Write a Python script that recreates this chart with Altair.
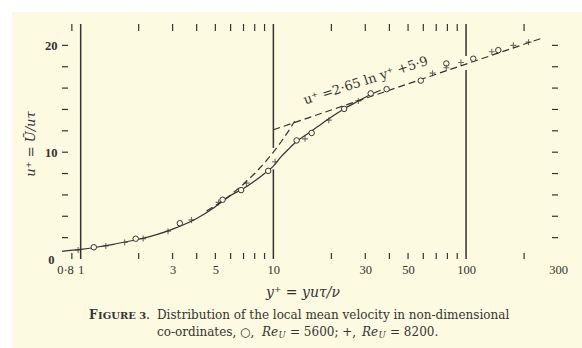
import altair as alt
import pandas as pd

# ---------------- data ----------------
# Re_U = 5600 (open circles)
re5600_y = [1.17, 1.93, 3.27, 5.45, 6.8, 9.4, 13.2, 15.8, 23.3, 32.0, 38.7, 58.2, 79.0, 109.0, 147.0]
re5600_u = [1.10, 1.90, 3.35, 5.55, 6.45, 8.25, 11.1, 11.8, 14.05, 15.5, 15.9, 16.7, 18.3, 18.75, 19.55]

# Re_U = 8200 (plus signs)
re8200_y = [0.97, 1.35, 1.69, 2.11, 2.84, 3.76, 5.2, 7.25, 10.2, 14.6, 19.4, 27.6, 67.0, 79.0, 94.0, 136.0, 176.0, 211.0]
re8200_u = [0.85, 1.22, 1.55, 1.91, 2.6, 3.66, 5.3, 7.1, 9.1, 11.25, 13.0, 14.8, 17.4, 17.9, 18.4, 19.4, 20.0, 20.3]

# smooth experimental curve (solid)
curve_y = [0.8, 1.0, 1.2, 1.5, 2.0, 2.5, 3.0, 4.0, 5.0, 5.5, 6.0, 7.0, 8.0, 9.0, 10.0, 11.0, 12.0, 13.2, 15.0, 17.0, 20.0, 23.0, 27.0, 32.0, 36.0]
curve_u = [0.72, 0.9, 1.1, 1.4, 1.85, 2.3, 2.8, 3.8, 4.9, 5.45, 5.95, 6.6, 7.3, 8.0, 8.7, 9.6, 10.3, 11.0, 11.7, 12.4, 13.3, 14.0, 14.7, 15.4, 15.8]

# u+ = y+ (dashed)
sub_y = [4.5, 5.0, 6.0, 7.0, 8.0, 9.0, 10.0, 11.0, 12.0, 12.9]
sub_u = [4.5, 5.0, 6.0, 7.0, 8.0, 9.0, 10.0, 11.0, 12.0, 12.9]

# u+ = 2.65 ln y+ + 5.9 (dashed, straight on semi-log axes)
log_y = [10.0, 250.0]
log_u = [12.1, 20.7]

# decade lines at y+ = 1, 10, 100 (broken where the curve crosses)
vline_x = [1, 10, 10, 100, 100]
vline_lo = [0, 0, 10.4, 0, 19.0]
vline_hi = [22, 8.4, 22, 17.7, 22]

x_labels = [0.8, 1, 3, 5, 10, 30, 50, 100, 300]
x_minor = [0.9, 2, 3, 4, 5, 6, 7, 8, 9, 20, 30, 40, 50, 60, 70, 80, 90, 200]
y_labels = [0, 10, 20]
y_minor = [2, 4, 6, 8, 10, 12, 14, 16, 18, 20]

# ---------------- layout ----------------
W, H = 496, 235
PL, PT, PR, PB = 62, 24, 24, 89
INK = "#333333"
PAPER = "#FCFAE1"
SERIF = "Liberation Serif"
CAP = "DejaVu Serif"

xs = alt.Scale(type="log", domain=[0.8, 300], nice=False)
ys = alt.Scale(domain=[0, 22], nice=False, zero=False)

xax = alt.Axis(values=x_labels, format="~g", labelExpr="replace(datum.label, '.', '·')",
               title=None, domain=False, ticks=False, grid=False, labelPadding=4, zindex=2,
               labelOffset={"condition": {"test": "datum.value < 0.85", "value": 3}, "value": 0},
               labelFont=SERIF, labelFontSize=12.5, labelColor=INK, labelFlush=False, labelOverlap=False)
yax = alt.Axis(values=y_labels, format="d", title=None, domain=False, ticks=False, grid=False,
               labelPadding={"condition": {"test": "datum.value == 0", "value": 8}, "value": 5},
               labelFont=SERIF, labelFontSize=12.5, labelColor=INK,
               labelFontWeight="bold", zindex=2)

one = pd.DataFrame({"a": [0]})

bg = alt.Chart(one).mark_rect(color=PAPER).encode(
    x=alt.value(-50), x2=alt.value(W + PR + 5), y=alt.value(-12), y2=alt.value(H + PB + 5))

df5600 = pd.DataFrame({"y": re5600_y, "u": re5600_u})
df8200 = pd.DataFrame({"y": re8200_y, "u": re8200_u})
dfcurve = pd.DataFrame({"y": curve_y, "u": curve_u})
dfsub = pd.DataFrame({"y": sub_y, "u": sub_u})
dflog = pd.DataFrame({"y": log_y, "u": log_u})
dfv = pd.DataFrame({"x": vline_x, "lo": vline_lo, "hi": vline_hi})
dfxm = pd.DataFrame({"x": x_minor})
dfym = pd.DataFrame({"u": y_minor})

axes_base = alt.Chart(df5600).mark_point(opacity=0).encode(
    x=alt.X("y:Q", scale=xs, axis=xax), y=alt.Y("u:Q", scale=ys, axis=yax))

vlines = alt.Chart(dfv).mark_rule(color=INK, strokeWidth=1.5).encode(
    x=alt.X("x:Q", scale=xs), y=alt.Y("lo:Q", scale=ys), y2="hi:Q")

tick_bot = alt.Chart(dfxm).mark_rule(color=INK, strokeWidth=1.2).encode(
    x=alt.X("x:Q", scale=xs), y=alt.value(H - 6), y2=alt.value(H))
tick_top = alt.Chart(dfxm).mark_rule(color=INK, strokeWidth=1.2).encode(
    x=alt.X("x:Q", scale=xs), y=alt.value(0), y2=alt.value(7))
tick_left = alt.Chart(dfym).mark_rule(color=INK, strokeWidth=1.2).encode(
    y=alt.Y("u:Q", scale=ys), x=alt.value(0), x2=alt.value(6))
tick_right = alt.Chart(dfym).mark_rule(color=INK, strokeWidth=1.2).encode(
    y=alt.Y("u:Q", scale=ys), x=alt.value(W - 6), x2=alt.value(W))

curve = alt.Chart(dfcurve).mark_line(color=INK, strokeWidth=1.2, interpolate="monotone").encode(
    x=alt.X("y:Q", scale=xs), y=alt.Y("u:Q", scale=ys))
subl = alt.Chart(dfsub).mark_line(color=INK, strokeWidth=1.2, strokeDash=[7, 4]).encode(
    x=alt.X("y:Q", scale=xs), y=alt.Y("u:Q", scale=ys))
logl = alt.Chart(dflog).mark_line(color=INK, strokeWidth=1.2, strokeDash=[7, 4]).encode(
    x=alt.X("y:Q", scale=xs), y=alt.Y("u:Q", scale=ys))

circles = alt.Chart(df5600).mark_point(shape="circle", filled=False, size=30, color=INK,
                                        strokeWidth=1, fill=PAPER, fillOpacity=1).encode(
    x=alt.X("y:Q", scale=xs), y=alt.Y("u:Q", scale=ys))
pluses = alt.Chart(df8200).mark_point(shape="M0,-1L0,1M-1,0L1,0", filled=False, size=36,
                                       color=INK, strokeWidth=1.1).encode(
    x=alt.X("y:Q", scale=xs), y=alt.Y("u:Q", scale=ys))

law_label = alt.Chart(pd.DataFrame({"y": [30.2], "u": [16.7]})).mark_text(
    text="u⁺ =2·65 ln y⁺ +5·9", angle=342, font=CAP, fontSize=13, color=INK,
    align="center", baseline="middle").encode(
    x=alt.X("y:Q", scale=xs), y=alt.Y("u:Q", scale=ys))


def txt(text, x, y, size=12, font=CAP, align="left", style="normal", weight="normal", angle=0):
    m = alt.Chart(one).mark_text(text=text, font=font, fontSize=size, align=align, baseline="middle",
                                 fontStyle=style, fontWeight=weight, color=INK, angle=angle)
    return m.encode(x=alt.value(x), y=alt.value(y))


ox, oy = PL, PT
texts = [
    txt("u⁺ = Ū/uτ", 31 - ox, 144 - oy, size=13, align="center", style="italic", angle=270),
    txt("y⁺ = yuτ/ν", 303 - ox, 293 - oy, size=14, align="center", style="italic"),
    txt("F", 89 - ox, 315 - oy, size=12, weight="bold"),
    txt("IGURE 3.", 98 - ox, 315.5 - oy, size=10, weight="bold"),
    txt("Distribution of the local mean velocity in non-dimensional", 157 - ox, 315 - oy, size=12),
    txt("co-ordinates, ○,", 157 - ox, 332 - oy, size=12),
    txt("Re", 262 - ox, 332 - oy, size=12, style="italic"),
    txt("U", 278.5 - ox, 335 - oy, size=8.5, style="italic"),
    txt("= 5600; +,", 290 - ox, 332 - oy, size=12),
    txt("Re", 362 - ox, 332 - oy, size=12, style="italic"),
    txt("U", 378.5 - ox, 335 - oy, size=8.5, style="italic"),
    txt("= 8200.", 390 - ox, 332 - oy, size=12),
]

chart = alt.layer(
    bg, axes_base, vlines, tick_bot, tick_top, tick_left, tick_right,
    curve, subl, logl, circles, pluses, law_label, *texts
).properties(
    width=W, height=H,
    padding={"left": PL, "top": PT, "right": PR, "bottom": PB},
    autosize=alt.AutoSizeParams(type="none"),
    background="white",
).configure_view(stroke=INK, strokeWidth=1.6)

chart.save("out.html", embed_options={"renderer": "svg", "actions": False})
